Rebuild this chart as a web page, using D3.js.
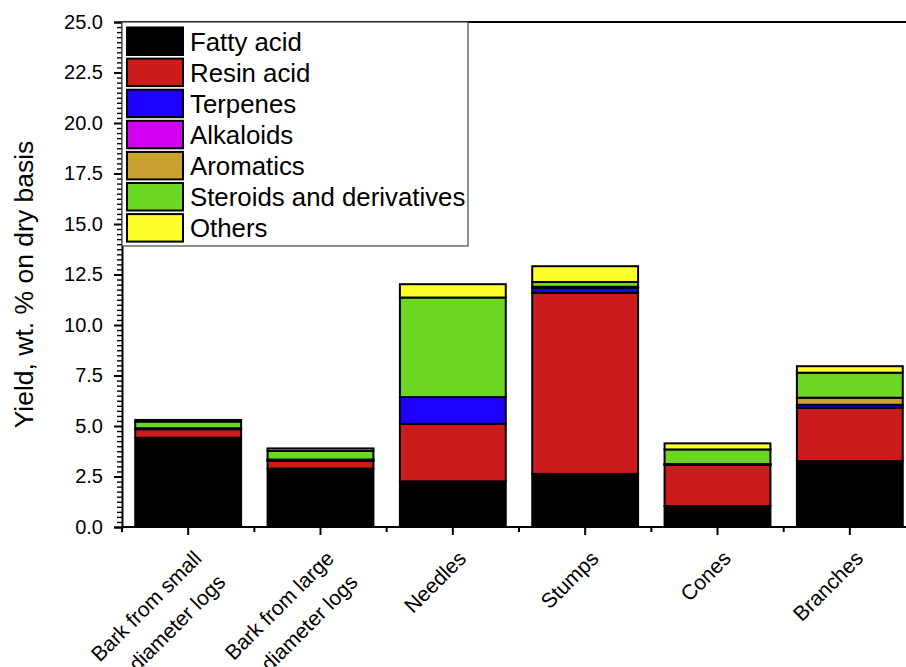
<!DOCTYPE html>
<html>
<head>
<meta charset="utf-8">
<script src="https://cdn.jsdelivr.net/npm/d3@7"></script>
<style>
  html, body { margin: 0; padding: 0; background: #fff; }
  svg { display: block; }
  text { font-family: "Liberation Sans", Arial, sans-serif; fill: #000; }
</style>
</head>
<body>
<svg id="chart" width="906" height="667"></svg>
<script>
// Feedstock categories (x axis), two-line labels split on "\n"
const categories = [
  "Bark from small\ndiameter logs",
  "Bark from large\ndiameter logs",
  "Needles",
  "Stumps",
  "Cones",
  "Branches"
];

// Extractive groups, in stacking order from the bottom
const seriesNames = [
  "Fatty acid",
  "Resin acid",
  "Terpenes",
  "Alkaloids",
  "Aromatics",
  "Steroids and derivatives",
  "Others"
];

const seriesColors = ["#000000", "#cc1b1d", "#1e00ff", "#d200f2", "#c9a032", "#6cd624", "#ffff2b"];

// Yield, wt. % on dry basis, one array per group (same order as categories)
const fattyAcid  = [4.42, 2.89, 2.26, 2.63, 1.04, 3.26];
const resinAcid  = [0.42, 0.38, 2.85, 8.96, 2.03, 2.64];
const terpenes   = [0.02, 0.02, 1.32, 0.25, 0.03, 0.15];
const alkaloids  = [0.00, 0.00, 0.00, 0.00, 0.00, 0.00];
const aromatics  = [0.03, 0.05, 0.00, 0.05, 0.02, 0.35];
const steroids   = [0.33, 0.43, 4.93, 0.24, 0.72, 1.24];
const others     = [0.08, 0.12, 0.66, 0.78, 0.30, 0.32];

// y axis ticks
const yMajorTicks = [0, 2.5, 5, 7.5, 10, 12.5, 15, 17.5, 20, 22.5, 25];
const yMinorStep = 0.25;

const seriesValues = [fattyAcid, resinAcid, terpenes, alkaloids, aromatics, steroids, others];

// Build a row table for d3.stack
const rows = categories.map((c, i) => {
  const r = { category: c };
  seriesNames.forEach((s, j) => { r[s] = seriesValues[j][i]; });
  return r;
});

const svg = d3.select("#chart");
const plotL = 122, plotT = 22, plotB = 527, plotR = 916;

const x = d3.scaleBand()
  .domain(categories)
  .range([plotL, plotR])
  .paddingInner(0.2)
  .paddingOuter(0.1);

const y = d3.scaleLinear().domain([0, 25]).range([plotB, plotT]);

const stacked = d3.stack().keys(seriesNames)(rows);

// Stacked bars
const layers = svg.append("g").selectAll("g")
  .data(stacked)
  .join("g")
  .attr("fill", (d, i) => seriesColors[i]);

layers.selectAll("rect")
  .data(d => d.filter(p => p[1] - p[0] > 0))
  .join("rect")
  .attr("x", d => x(d.data.category))
  .attr("width", x.bandwidth())
  .attr("y", d => y(d[1]))
  .attr("height", d => y(d[0]) - y(d[1]))
  .attr("stroke", "#000")
  .attr("stroke-width", 2);

// Frame: top border line
svg.append("line")
  .attr("x1", plotL).attr("x2", plotR)
  .attr("y1", plotT).attr("y2", plotT)
  .attr("stroke", "#000").attr("stroke-width", 2);

// Y axis: minor ticks
const minorVals = d3.range(0, 25 + 1e-9, yMinorStep).filter(v => Math.abs(v / 2.5 - Math.round(v / 2.5)) > 1e-6);
const yMinor = svg.append("g")
  .attr("transform", `translate(${plotL},0)`)
  .call(d3.axisLeft(y).tickValues(minorVals).tickSize(5).tickFormat(""));
yMinor.select(".domain").remove();
yMinor.selectAll("line").attr("stroke-width", 1.4);

// Y axis: major ticks and labels
const yAxis = svg.append("g")
  .attr("transform", `translate(${plotL},0)`)
  .call(d3.axisLeft(y).tickValues(yMajorTicks).tickSize(8).tickPadding(11).tickFormat(d3.format(".1f")));
yAxis.select(".domain").attr("stroke-width", 2);
yAxis.selectAll(".tick line").attr("stroke-width", 2);
yAxis.selectAll("text").attr("font-size", 20);

// X axis: major ticks at band centres, minor ticks at band edges
const xAxis = svg.append("g")
  .attr("transform", `translate(0,${plotB})`)
  .call(d3.axisBottom(x).tickSize(8).tickFormat(""))
  .call(g => g.select(".domain").remove());
xAxis.selectAll(".tick line").attr("stroke-width", 2);
svg.append("line")
  .attr("x1", plotL - 1).attr("x2", plotR)
  .attr("y1", plotB).attr("y2", plotB)
  .attr("stroke", "#000").attr("stroke-width", 2);
const edges = categories.map(c => x(c) - x.step() * x.paddingInner() / 2);
svg.append("g").selectAll("line")
  .data(edges)
  .join("line")
  .attr("x1", d => d).attr("x2", d => d)
  .attr("y1", plotB).attr("y2", plotB + 5)
  .attr("stroke", "#000").attr("stroke-width", 2);

// X category labels, rotated
const xl = svg.append("g").selectAll("text")
  .data(categories)
  .join("text")
  .attr("font-size", 21)
  .attr("text-anchor", "end")
  .attr("transform", c => `translate(${x(c) + x.bandwidth() / 2 + 4},${plotB + 22}) rotate(-45)`);
xl.selectAll("tspan")
  .data(c => c.split("\n"))
  .join("tspan")
  .attr("x", 0)
  .attr("dy", (d, i) => i === 0 ? "0.72em" : "1.6em")
  .text(d => d);

// Y axis title
svg.append("text")
  .attr("transform", `translate(33,${(plotT + plotB) / 2 + 10}) rotate(-90)`)
  .attr("text-anchor", "middle")
  .attr("font-size", 26.5)
  .text("Yield, wt. % on dry basis");

// Legend
const lg = svg.append("g");
lg.append("rect")
  .attr("x", plotL).attr("y", plotT)
  .attr("width", 346).attr("height", 224)
  .attr("fill", "#fff")
  .attr("stroke", "#444").attr("stroke-width", 1.2);
const rowH = 31.1;
const item = lg.selectAll("g.item")
  .data(seriesNames)
  .join("g")
  .attr("class", "item")
  .attr("transform", (d, i) => `translate(127,${27.5 + i * rowH})`);
item.append("rect")
  .attr("width", 56).attr("height", 27.5)
  .attr("fill", (d, i) => seriesColors[i])
  .attr("stroke", "#000").attr("stroke-width", 2);
item.append("text")
  .attr("x", 63).attr("y", 14)
  .attr("dy", "0.36em")
  .attr("font-size", 25.8)
  .text(d => d);
</script>
</body>
</html>
